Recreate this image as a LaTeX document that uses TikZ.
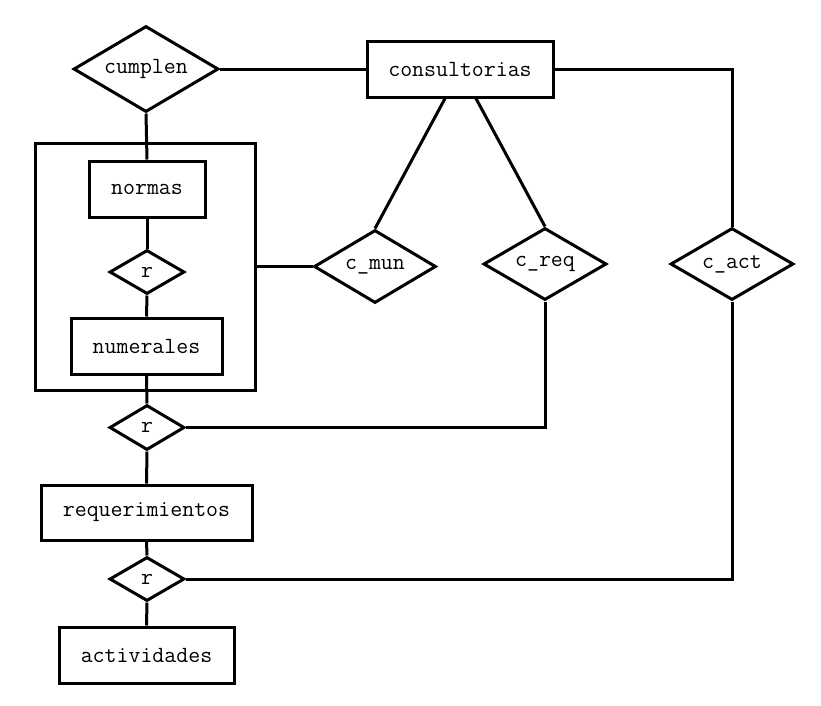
\documentclass[tikz,border=0pt]{standalone}
\usetikzlibrary{shapes.geometric}
\tikzset{
  every node/.style={font=\ttfamily\fontsize{23.2}{25}\selectfont, text=black},
  ent/.style={draw, rectangle, line width=3pt, inner sep=0pt},
  rel/.style={draw, diamond, line width=3pt, inner sep=0pt, aspect=1.6},
  conn/.style={line width=3pt}
}
\begin{document}
\begin{tikzpicture}[x=1pt,y=-1pt]
\useasboundingbox (0,0) rectangle (821,705);
% aggregate box
\node[ent, minimum width=220pt, minimum height=247pt] (agg) at (145,266.5) {};
% entities
\node[ent, minimum width=186pt, minimum height=56pt] (cons) at (460,69) {consultorias};
\node[ent, minimum width=116pt, minimum height=56pt] (normas) at (147,189) {normas};
\node[ent, minimum width=151pt, minimum height=56pt] (num) at (146.5,346) {numerales};
\node[ent, minimum width=211pt, minimum height=55pt] (req) at (146.5,512.5) {requerimientos};
\node[ent, minimum width=175pt, minimum height=56pt] (act) at (146.5,655) {actividades};
% relations
\node[rel, minimum width=145pt, minimum height=86pt] (cumplen) at (146,69) {cumplen};
\node[rel, minimum width=75pt, minimum height=44pt] (r1) at (147,272) {r};
\node[rel, minimum width=75pt, minimum height=45pt] (r2) at (147,427.5) {r};
\node[rel, minimum width=75pt, minimum height=44pt] (r3) at (147,579) {r};
\node[rel, minimum width=122pt, minimum height=73pt] (cmun) at (375,266.5) {c\_mun};
\node[rel, minimum width=123pt, minimum height=72pt] (creq) at (545,264) {c\_req};
\node[rel, minimum width=123pt, minimum height=72pt] (cact) at (732,264) {c\_act};
% connectors
\draw[conn] (cumplen.east) -- (cons.west);
\draw[conn] (cumplen.south) -- (normas.north);
\draw[conn] (cons.east) -| (cact.north);
\draw[conn] ([xshift=-15pt]cons.south) -- (cmun.north);
\draw[conn] ([xshift=16pt]cons.south) -- (creq.north);
\draw[conn] (normas.south) -- (r1.north);
\draw[conn] (r1.south) -- (num.north);
\draw[conn] (agg.east) -- (cmun.west);
\draw[conn] (num.south) -- (r2.north);
\draw[conn] (r2.east) -| (creq.south);
\draw[conn] (r2.south) -- (req.north);
\draw[conn] (req.south) -- (r3.north);
\draw[conn] (r3.east) -| (cact.south);
\draw[conn] (r3.south) -- (act.north);
\end{tikzpicture}
\end{document}
